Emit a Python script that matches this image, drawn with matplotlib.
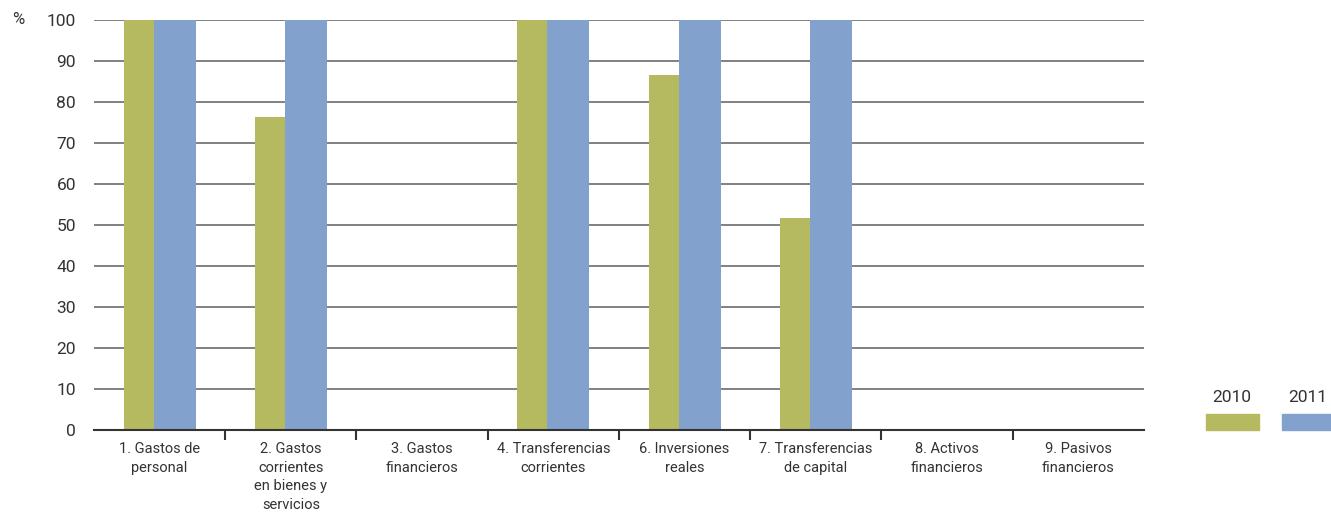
import numpy as np
import matplotlib.pyplot as plt
from matplotlib.patches import Rectangle

categorias = ["1. Gastos de\npersonal", "2. Gastos\ncorrientes\nen bienes y\nservicios",
              "3. Gastos\nfinancieros", "4. Transferencias\ncorrientes",
              "6. Inversiones\nreales", "7. Transferencias\nde capital",
              "8. Activos\nfinancieros", "9. Pasivos\nfinancieros"]
v2010 = [100, 76.3, 0, 100, 86.6, 51.7, 0, 0]
v2011 = [100, 100, 0, 100, 100, 100, 0, 0]
anios = ["2010", "2011"]
colores = ["#b5b960", "#82a1cd"]

plt.rcParams['font.family'] = ['Roboto', 'DejaVu Sans']

fig = plt.figure(figsize=(13.31, 5.16), dpi=100)
ax = fig.add_axes([0.0706, 0.1667, 0.7889, 0.7946])

x = np.arange(len(categorias))
w1, w2 = 0.229, 0.32
left = -(w1 + w2) / 2
ax.bar(x + left + w1 / 2, v2010, w1, color=colores[0], zorder=3)
ax.bar(x + left + w1 + w2 / 2, v2011, w2, color=colores[1], zorder=3)

ax.set_xlim(-0.5, len(categorias) - 0.5)
ax.set_ylim(0, 100)
ax.set_yticks(range(0, 101, 10))
ax.yaxis.grid(True, color="#808080", linewidth=1.4, zorder=0)
ax.tick_params(axis="y", length=0, pad=13, labelsize=12.5, labelcolor="#333333")
ax.set_xticks(x)
ax.set_xticklabels(categorias, fontsize=10.5, color="#333333", linespacing=1.4)
ax.tick_params(axis="x", length=0, pad=9)
ax.set_xticks(np.arange(0.5, len(categorias) - 1, 1), minor=True)
ax.tick_params(axis="x", which="minor", length=7, width=1.5, color="#333333", direction="out")
for s in ["top", "right", "left"]:
    ax.spines[s].set_visible(False)
ax.spines["bottom"].set_color("#333333")
ax.spines["bottom"].set_linewidth(1.5)
ax.spines["bottom"].set_zorder(4)

fig.text(18 / 1331, 1 - 20 / 516, "%", fontsize=12, color="#333333", ha="center", va="center")

# leyenda
for i, (a, c) in enumerate(zip(anios, colores)):
    x0 = (1206 + i * 76) / 1331
    fig.add_artist(Rectangle((x0, 1 - 430 / 516), 53 / 1331, 16 / 516,
                             transform=fig.transFigure, color=c))
    fig.text(x0 + 26 / 1331, 1 - 398 / 516, a, fontsize=12.5, color="#333333",
             ha="center", va="center")

fig.savefig("out.png", dpi=100)
